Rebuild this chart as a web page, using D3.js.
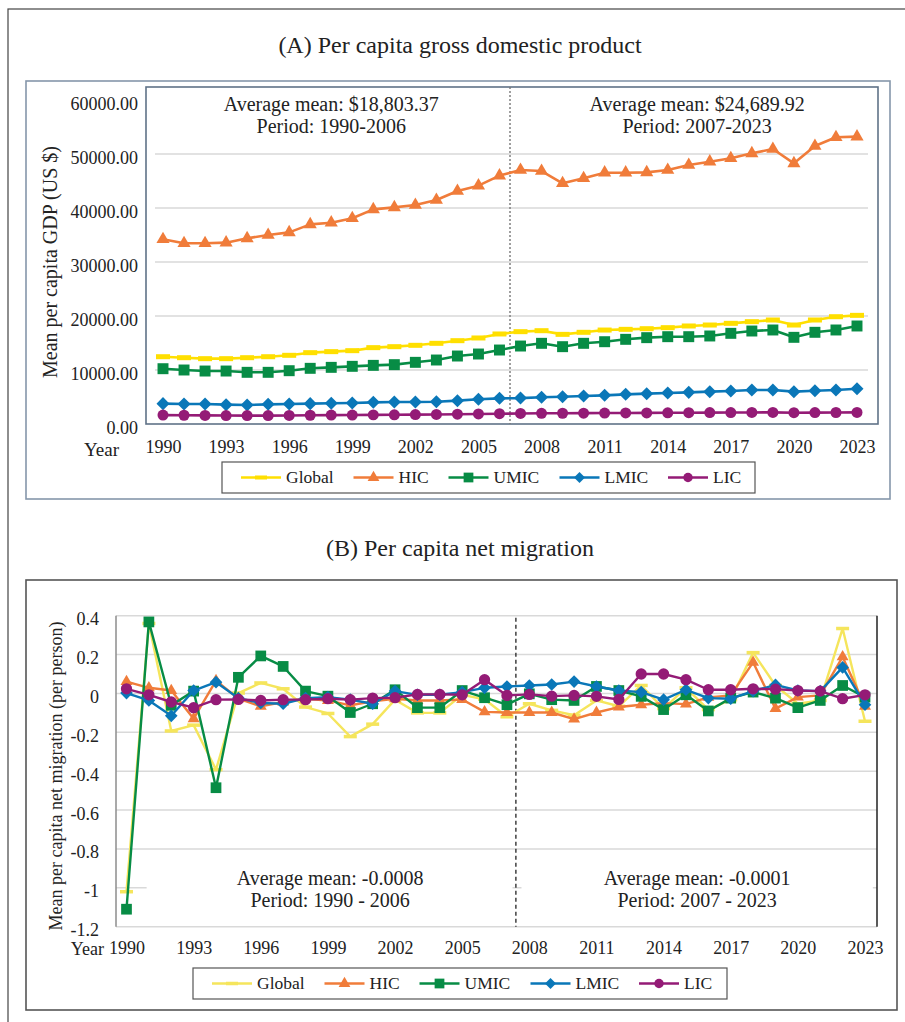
<!DOCTYPE html>
<html>
<head>
<meta charset="utf-8">
<script src="https://cdn.jsdelivr.net/npm/d3@7"></script>
<style>
  body { margin: 0; background: #fff; }
  svg { display: block; }
</style>
</head>
<body>
<script>
// ---- Data -------------------------------------------------------------
const years = [1990, 1991, 1992, 1993, 1994, 1995, 1996, 1997, 1998, 1999, 2000, 2001,
  2002, 2003, 2004, 2005, 2006, 2007, 2008, 2009, 2010, 2011, 2012, 2013, 2014, 2015,
  2016, 2017, 2018, 2019, 2020, 2021, 2022, 2023];
const tickYears = [1990, 1993, 1996, 1999, 2002, 2005, 2008, 2011, 2014, 2017, 2020, 2023];

// Mean per capita GDP (US $)
const gdpGlobal = [12460, 12280, 12100, 12100, 12280, 12460, 12720, 13210, 13400, 13580, 14140, 14320,
  14570, 14940, 15430, 15930, 16670, 17100, 17280, 16600, 16980, 17400, 17530, 17650, 17840, 18150,
  18330, 18640, 18950, 19260, 18330, 19260, 19870, 20120];
const gdpHIC = [34200, 33460, 33460, 33580, 34380, 35000, 35490, 36970, 37280, 38090, 39750, 40120,
  40560, 41480, 43150, 44140, 46000, 47040, 46850, 44570, 45500, 46540, 46540, 46600, 47040, 47960,
  48580, 49200, 50120, 50930, 48270, 51480, 53090, 53210];
const gdpUMIC = [10240, 10000, 9810, 9810, 9570, 9570, 9870, 10310, 10490, 10680, 10860, 10990,
  11420, 11850, 12590, 12960, 13700, 14440, 14940, 14320, 14940, 15240, 15680, 15990, 16170, 16170,
  16300, 16790, 17220, 17410, 16050, 16980, 17410, 18150];
const gdpLMIC = [3770, 3710, 3710, 3580, 3520, 3640, 3710, 3770, 3830, 3890, 4010, 4070,
  4070, 4130, 4320, 4570, 4750, 4800, 4940, 5060, 5190, 5310, 5490, 5620, 5740, 5860,
  5990, 6110, 6300, 6300, 5990, 6170, 6300, 6540];
const gdpLIC = [1650, 1620, 1590, 1570, 1560, 1560, 1580, 1620, 1650, 1660, 1690, 1710,
  1740, 1770, 1810, 1860, 1910, 1950, 1980, 1990, 2010, 2030, 2050, 2060, 2080, 2090,
  2110, 2120, 2140, 2150, 2090, 2110, 2130, 2150];
const gdpTicks = [0, 10000, 20000, 30000, 40000, 50000, 60000];

// Mean per capita net migration (per person)
const migGlobal = [-1.02, 0.36, -0.193, -0.163, -0.392, 0.002, 0.054, 0.024, -0.07, -0.103, -0.222, -0.158,
  -0.032, -0.1, -0.1, -0.007, -0.03, -0.12, -0.053, -0.087, -0.112, -0.036, -0.066, 0.041, -0.078, 0.029,
  -0.083, -0.032, 0.21, 0.041, -0.053, -0.036, 0.334, -0.143];
const migHIC = [0.061, 0.029, 0.015, -0.13, 0.066, -0.027, -0.066, -0.044, -0.027, -0.036, -0.061, -0.041,
  -0.027, -0.036, -0.036, -0.031, -0.095, -0.098, -0.098, -0.098, -0.132, -0.098, -0.07, -0.058, -0.05, -0.055,
  -0.02, -0.01, 0.16, -0.078, -0.019, -0.01, 0.188, -0.066];
const migUMIC = [-1.11, 0.368, -0.061, 0.012, -0.485, 0.083, 0.193, 0.139, 0.012, -0.014, -0.098, -0.053,
  0.019, -0.073, -0.073, 0.015, -0.022, -0.058, -0.002, -0.032, -0.036, 0.036, 0.015, -0.015, -0.083, -0.007,
  -0.09, -0.024, 0.007, -0.024, -0.073, -0.036, 0.041, -0.019];
const migLMIC = [0.002, -0.036, -0.115, 0.015, 0.058, -0.024, -0.049, -0.053, -0.024, -0.019, -0.032, -0.053,
  0.012, -0.007, -0.007, 0.007, 0.029, 0.036, 0.041, 0.046, 0.061, 0.036, 0.015, 0.007, -0.032, 0.019,
  -0.024, -0.027, 0.012, 0.044, 0.015, 0.012, 0.134, -0.058];
const migLIC = [0.024, -0.007, -0.044, -0.073, -0.032, -0.031, -0.036, -0.032, -0.032, -0.027, -0.032, -0.024,
  -0.022, -0.005, -0.005, -0.007, 0.071, -0.01, -0.005, -0.014, -0.01, -0.015, -0.031, 0.1, 0.1, 0.071,
  0.019, 0.019, 0.024, 0.022, 0.015, 0.012, -0.027, -0.007];
const migTicks = [0.4, 0.2, 0, -0.2, -0.4, -0.6, -0.8, -1, -1.2];

const seriesNames = ["Global", "HIC", "UMIC", "LMIC", "LIC"];

// ---- Styles ------------------------------------------------------------
const FONT = "'Liberation Serif', 'Times New Roman', serif";
const TEXT = "#222";
const markerType = { Global: "dash", HIC: "triangle", UMIC: "square", LMIC: "diamond", LIC: "circle" };
const colorsA = { Global: "#ffdf00", HIC: "#f07c3a", UMIC: "#078c45", LMIC: "#0a77b8", LIC: "#941b76" };
const colorsB = { Global: "#f5e55c", HIC: "#f07c3a", UMIC: "#078c45", LMIC: "#0a77b8", LIC: "#941b76" };

const svg = d3.select("body").append("svg").attr("width", 905).attr("height", 1022);

function drawMarker(sel, type, color, m) {
  if (type === "dash") {
    sel.append("rect").attr("x", -m.dashW / 2).attr("y", -m.dashH / 2)
      .attr("width", m.dashW).attr("height", m.dashH).attr("fill", color);
  } else if (type === "triangle") {
    sel.append("path").attr("d", d3.symbol(d3.symbolTriangle, m.tri)()).attr("fill", color);
  } else if (type === "square") {
    sel.append("path").attr("d", d3.symbol(d3.symbolSquare, m.sq)()).attr("fill", color);
  } else if (type === "diamond") {
    sel.append("path").attr("d", d3.symbol(d3.symbolSquare, m.dia)()).attr("transform", "rotate(45)").attr("fill", color);
  } else {
    sel.append("path").attr("d", d3.symbol(d3.symbolCircle, m.circ)()).attr("fill", color);
  }
}

function drawSeries(g, x, y, values, name, colors, m, lw) {
  const color = colors[name];
  const line = d3.line().x((d, i) => x(years[i])).y(d => y(d));
  g.append("path").datum(values).attr("d", line).attr("fill", "none")
    .attr("stroke", color).attr("stroke-width", lw).attr("stroke-linejoin", "round");
  g.append("g").selectAll("g").data(values).join("g")
    .attr("transform", (d, i) => `translate(${x(years[i])},${y(d)})`)
    .each(function () { drawMarker(d3.select(this), markerType[name], color, m); });
}

function drawLegend(box, colors, m, lw) {
  const g = svg.append("g");
  g.append("rect").attr("x", box.x).attr("y", box.y).attr("width", box.w).attr("height", box.h)
    .attr("fill", "#fff").attr("stroke", "#555").attr("stroke-width", 1.2);
  const cy = box.y + box.h / 2;
  seriesNames.forEach((name, i) => {
    const lx = box.x + box.offsets[i];
    g.append("line").attr("x1", lx).attr("x2", lx + 40).attr("y1", cy).attr("y2", cy)
      .attr("stroke", colors[name]).attr("stroke-width", lw);
    drawMarker(g.append("g").attr("transform", `translate(${lx + 20},${cy})`), markerType[name], colors[name], m);
    g.append("text").attr("x", lx + 45).attr("y", cy).attr("dy", "0.34em")
      .attr("font-family", FONT).attr("font-size", 17.5).attr("fill", TEXT).text(name);
  });
}

function styleAxisText(axisG, size, dy) {
  axisG.select(".domain").remove();
  axisG.selectAll("text").attr("font-family", FONT).attr("font-size", size).attr("fill", TEXT);
  if (dy !== undefined) axisG.selectAll("text").attr("dy", dy);
}

// ---- Figure frame -------------------------------------------------------
svg.append("rect").attr("x", 8).attr("y", 9).attr("width", 898).attr("height", 1030)
  .attr("fill", "none").attr("stroke", "#444").attr("stroke-width", 1.2);

// ======================= Panel A: GDP per capita =========================
svg.append("rect").attr("x", 26).attr("y", 81).attr("width", 864).attr("height", 418)
  .attr("fill", "none").attr("stroke", "#8596aa").attr("stroke-width", 1.6);
svg.append("text").attr("x", 460).attr("y", 53).attr("text-anchor", "middle")
  .attr("font-family", FONT).attr("font-size", 24).attr("fill", TEXT)
  .text("(A) Per capita gross domestic product");

const plotA = { left: 146, right: 878, top: 87, bottom: 424 };
const xA = d3.scaleLinear().domain([1990, 2023]).range([163, 857]);
const yA = d3.scaleLinear().domain([0, 60000]).range([plotA.bottom, 100]);

const gA = svg.append("g");
gA.append("g").selectAll("line").data(gdpTicks.filter(v => v > 0 && v < 60000)).join("line")
  .attr("x1", plotA.left + 9).attr("x2", plotA.right - 10)
  .attr("y1", d => yA(d)).attr("y2", d => yA(d))
  .attr("stroke", "#d9d9d9").attr("stroke-width", 1.5);
gA.append("rect").attr("x", plotA.left).attr("y", plotA.top)
  .attr("width", plotA.right - plotA.left).attr("height", plotA.bottom - plotA.top)
  .attr("fill", "none").attr("stroke", "#5f7287").attr("stroke-width", 1.6);

// period divider
gA.append("line").attr("x1", xA(2006.5)).attr("x2", xA(2006.5))
  .attr("y1", plotA.top).attr("y2", plotA.bottom)
  .attr("stroke", "#777").attr("stroke-width", 1.4).attr("stroke-dasharray", "2,2");

// period annotations
[[xA(1998), "Average mean: $18,803.37", "Period: 1990-2006"],
 [xA(2015.4), "Average mean: $24,689.92", "Period: 2007-2023"]].forEach(([cx, l1, l2]) => {
  gA.append("text").attr("x", cx).attr("y", 111).attr("text-anchor", "middle")
    .attr("font-family", FONT).attr("font-size", 20).attr("fill", TEXT).text(l1);
  gA.append("text").attr("x", cx).attr("y", 133).attr("text-anchor", "middle")
    .attr("font-family", FONT).attr("font-size", 20).attr("fill", TEXT).text(l2);
});

const axLA = gA.append("g").attr("transform", `translate(${plotA.left},0)`)
  .call(d3.axisLeft(yA).tickValues(gdpTicks).tickFormat(d3.format(".2f")).tickSize(0).tickPadding(8));
styleAxisText(axLA, 18, "0.5em");
const axBA = gA.append("g").attr("transform", `translate(0,${plotA.bottom})`)
  .call(d3.axisBottom(xA).tickValues(tickYears).tickFormat(d3.format("d")).tickSize(0).tickPadding(16));
styleAxisText(axBA, 18);
gA.append("text").attr("x", 119).attr("y", 456).attr("text-anchor", "end")
  .attr("font-family", FONT).attr("font-size", 19).attr("fill", TEXT).text("Year");
gA.append("text").attr("transform", "translate(50,262) rotate(-90)").attr("text-anchor", "middle")
  .attr("dy", "0.35em").attr("font-family", FONT).attr("font-size", 20).attr("fill", TEXT)
  .text("Mean per capita GDP (US $)");

const markA = { dashW: 14, dashH: 5, tri: 75, sq: 120, dia: 85, circ: 95 };
const gdpSeries = { Global: gdpGlobal, HIC: gdpHIC, UMIC: gdpUMIC, LMIC: gdpLMIC, LIC: gdpLIC };
seriesNames.forEach(n => drawSeries(gA, xA, yA, gdpSeries[n], n, colorsA, markA, 2.6));

drawLegend({ x: 222, y: 462, w: 533, h: 31, offsets: [19, 131.5, 226.5, 337.5, 446] },
  colorsA, { dashW: 12, dashH: 4, tri: 60, sq: 95, dia: 60, circ: 70 }, 2.4);

// ===================== Panel B: net migration per capita ==================
svg.append("rect").attr("x", 26).attr("y", 580).attr("width", 871).attr("height", 430)
  .attr("fill", "none").attr("stroke", "#555").attr("stroke-width", 1.6);
svg.append("text").attr("x", 460).attr("y", 556).attr("text-anchor", "middle")
  .attr("font-family", FONT).attr("font-size", 24).attr("fill", TEXT)
  .text("(B) Per capita net migration");

const plotB = { left: 116, right: 877 };
const xB = d3.scaleLinear().domain([1990, 2023]).range([126.5, 865]);
const yB = d3.scaleLinear().domain([-1.2, 0.4]).range([926.7, 615.7]);

const gB = svg.append("g");
gB.append("g").selectAll("line").data(migTicks).join("line")
  .attr("x1", plotB.left).attr("x2", plotB.right)
  .attr("y1", d => yB(d)).attr("y2", d => yB(d))
  .attr("stroke", "#d9d9d9").attr("stroke-width", 1.5);
gB.append("line").attr("x1", plotB.left).attr("x2", plotB.left)
  .attr("y1", yB(0.4)).attr("y2", yB(-1.2)).attr("stroke", "#8c8c8c").attr("stroke-width", 1.5);
gB.append("line").attr("x1", plotB.right).attr("x2", plotB.right)
  .attr("y1", yB(0.4)).attr("y2", yB(-1.2)).attr("stroke", "#222").attr("stroke-width", 1.5);

// annotation boxes (white) over the lower gridlines
[[xB(1990.9), xB(2007.25)], [xB(2007.65), xB(2023.35)]].forEach(([a, b]) => {
  gB.append("rect").attr("x", a).attr("y", yB(-0.86)).attr("width", b - a).attr("height", yB(-1.12) - yB(-0.86))
    .attr("fill", "#fff");
});
gB.append("line").attr("x1", xB(2007.4)).attr("x2", xB(2007.4))
  .attr("y1", yB(0.39)).attr("y2", yB(-1.2))
  .attr("stroke", "#222").attr("stroke-width", 1.3).attr("stroke-dasharray", "4,3");

[[xB(1999.1), "Average mean: -0.0008", "Period: 1990 - 2006"],
 [xB(2015.5), "Average mean: -0.0001", "Period: 2007 - 2023"]].forEach(([cx, l1, l2]) => {
  gB.append("text").attr("x", cx).attr("y", 885).attr("text-anchor", "middle")
    .attr("font-family", FONT).attr("font-size", 20).attr("fill", TEXT).text(l1);
  gB.append("text").attr("x", cx).attr("y", 907).attr("text-anchor", "middle")
    .attr("font-family", FONT).attr("font-size", 20).attr("fill", TEXT).text(l2);
});

const axLB = gB.append("g").attr("transform", `translate(${plotB.left},0)`)
  .call(d3.axisLeft(yB).tickValues(migTicks).tickFormat(d => String(+d.toFixed(1))).tickSize(0).tickPadding(17));
styleAxisText(axLB, 18, "0.5em");
const axBB = gB.append("g").attr("transform", `translate(0,${yB(-1.2)})`)
  .call(d3.axisBottom(xB).tickValues(tickYears).tickFormat(d3.format("d")).tickSize(0).tickPadding(15));
styleAxisText(axBB, 18);
gB.append("text").attr("x", 104).attr("y", 955).attr("text-anchor", "end")
  .attr("font-family", FONT).attr("font-size", 18).attr("fill", TEXT).text("Year");
gB.append("text").attr("transform", "translate(56,776) rotate(-90)").attr("text-anchor", "middle")
  .attr("dy", "0.35em").attr("font-family", FONT).attr("font-size", 18).attr("fill", TEXT)
  .text("Mean per capita net migration (per person)");

const markB = { dashW: 13, dashH: 3.5, tri: 62, sq: 115, dia: 80, circ: 100 };
const migSeries = { Global: migGlobal, HIC: migHIC, UMIC: migUMIC, LMIC: migLMIC, LIC: migLIC };
seriesNames.forEach(n => drawSeries(gB, xB, yB, migSeries[n], n, colorsB, markB, 2.4));

drawLegend({ x: 193, y: 968, w: 534, h: 31, offsets: [19, 131.5, 226.5, 337.5, 446] },
  colorsB, { dashW: 12, dashH: 3.5, tri: 60, sq: 95, dia: 60, circ: 70 }, 2.4);
</script>
</body>
</html>
